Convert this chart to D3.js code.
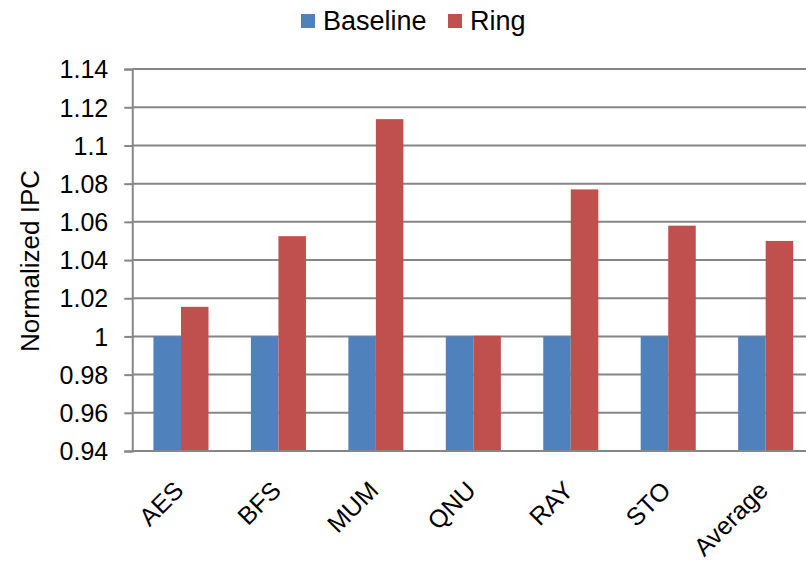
<!DOCTYPE html>
<html>
<head>
<meta charset="utf-8">
<script src="https://cdn.jsdelivr.net/npm/d3@7"></script>
<style>
  html, body { margin: 0; padding: 0; background: #fff; }
  svg { display: block; font-family: Arial, "Liberation Sans", sans-serif; }
</style>
</head>
<body>
<svg id="chart" width="806" height="566"></svg>
<script>
// Benchmarks and normalized IPC per configuration
const categories = ["AES", "BFS", "MUM", "QNU", "RAY", "STO", "Average"];
const seriesNames = ["Baseline", "Ring"];
const baseline = [1, 1, 1, 1, 1, 1, 1];
const ring = [1.0155, 1.0525, 1.1138, 1.0003, 1.0770, 1.0580, 1.0500];
const yTicks = [0.94, 0.96, 0.98, 1, 1.02, 1.04, 1.06, 1.08, 1.1, 1.12, 1.14];
const colors = ["#4F81BD", "#C0504D"];

const svg = d3.select("#chart");
const plotLeft = 132.25, plotRight = 814.4, plotTop = 69.1, plotBottom = 451;

const x = d3.scaleBand().domain(categories).range([plotLeft, plotRight])
  .paddingInner(0.435).paddingOuter(0.2175);
const xs = d3.scaleBand().domain(seriesNames).range([0, x.bandwidth()]);
const y = d3.scaleLinear().domain([0.94, 1.14]).range([plotBottom, plotTop]);

// horizontal gridlines
svg.append("g").selectAll("line").data(yTicks).join("line")
  .attr("x1", plotLeft).attr("x2", 806)
  .attr("y1", d => y(d)).attr("y2", d => y(d))
  .attr("stroke", "#868686").attr("stroke-width", 2);

// bars
const rows = categories.map((c, i) => ({ c, vals: [baseline[i], ring[i]] }));
const groups = svg.append("g").selectAll("g").data(rows).join("g")
  .attr("transform", d => `translate(${x(d.c)},0)`);
groups.selectAll("rect").data(d => d.vals.map((v, j) => ({ v, s: seriesNames[j], j })))
  .join("rect")
  .attr("x", d => xs(d.s))
  .attr("width", xs.bandwidth())
  .attr("y", d => y(d.v))
  .attr("height", d => y(0.94) - y(d.v))
  .attr("fill", d => colors[d.j]);

// y axis
const yAxis = d3.axisLeft(y).tickValues(yTicks).tickSize(8).tickPadding(16)
  .tickFormat(d3.format("~g"));
const ga = svg.append("g").attr("transform", `translate(${plotLeft},0)`).call(yAxis);
ga.select(".domain").attr("stroke", "#868686").attr("stroke-width", 2);
ga.selectAll(".tick line").attr("stroke", "#868686").attr("stroke-width", 2);
ga.selectAll(".tick text").attr("font-size", 25).attr("fill", "#000")
  .attr("dy", "0.35em")
  .attr("font-family", "Arial, 'Liberation Sans', sans-serif");

// x axis baseline
svg.append("line").attr("x1", plotLeft).attr("x2", 806)
  .attr("y1", plotBottom).attr("y2", plotBottom)
  .attr("stroke", "#868686").attr("stroke-width", 2);

// category labels
svg.append("g").selectAll("text").data(categories).join("text")
  .attr("transform", d => `translate(${x(d) + x.bandwidth() / 2 + 4},492) rotate(-45)`)
  .attr("text-anchor", "end")
  .attr("font-size", 25)
  .text(d => d);

// y axis title
svg.append("text")
  .attr("transform", "translate(39,261) rotate(-90)")
  .attr("text-anchor", "middle")
  .attr("font-size", 26)
  .text("Normalized IPC");

// legend
const legendX = [301, 448];
const lg = svg.append("g").selectAll("g").data(seriesNames).join("g")
  .attr("transform", (d, i) => `translate(${legendX[i]},14)`);
lg.append("rect").attr("width", 14).attr("height", 14).attr("fill", (d, i) => colors[i]);
lg.append("text").attr("x", 22).attr("y", 16).attr("font-size", 27).text(d => d);
</script>
</body>
</html>
